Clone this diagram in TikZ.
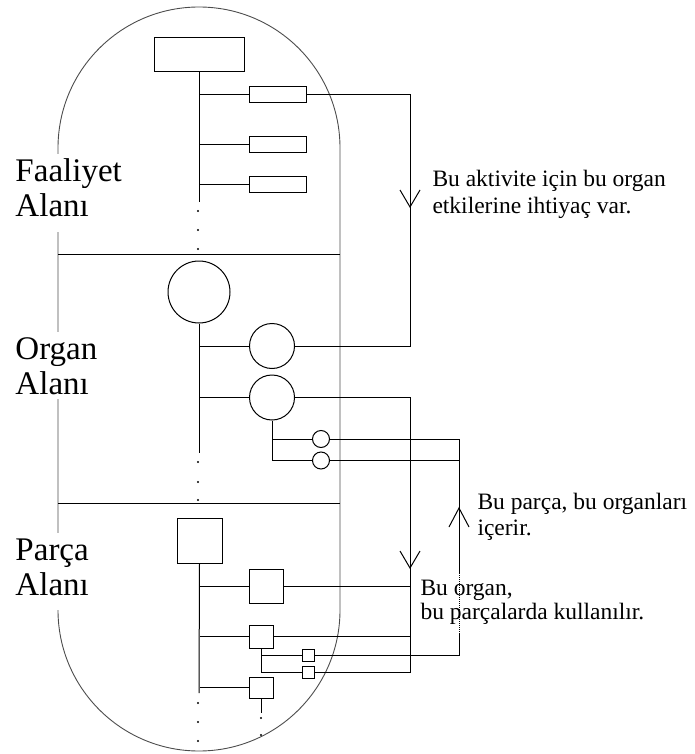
\documentclass[tikz,border=0pt]{standalone}
\usepackage{fontspec}
\setmainfont{Liberation Serif}
\usetikzlibrary{calc}
\tikzset{
  rbox/.style n args={2}{draw, rectangle, inner sep=0pt, minimum width=#1, minimum height=#2},
  circ/.style={draw, circle, inner sep=0pt, minimum size=#1},
  stad/.style={line width=0.9pt, black!70},
  lbl/.style={fill=white, inner xsep=2pt, inner ysep=5pt, font=\fontsize{33}{35}\selectfont, anchor=base west},
  note/.style={inner sep=0pt, font=\fontsize{23.5}{27}\selectfont, anchor=base west},
  dotm/.style={fill, circle, inner sep=0pt, minimum size=2.2pt},
}
\begin{document}
\begin{tikzpicture}[x=1pt, y=-1pt, line width=1pt]
\useasboundingbox (0,0) rectangle (694,754);

% stadium outline
\draw[stad] (58,610) -- (58,148) arc[start angle=180, end angle=0, radius=141pt]
  -- (340,610) arc[start angle=0, end angle=-180, radius=141pt] -- cycle;
% dividers
\coordinate (dv1l) at (58,254.5); \coordinate (dv1r) at (340,254.5);
\coordinate (dv2l) at (58,503);   \coordinate (dv2r) at (340,503);
\draw (dv1l) -- (dv1r);
\draw (dv2l) -- (dv2r);

% activity domain
\node[rbox={90pt}{34pt}] (T0) at (199,55) {};
\node[rbox={57pt}{16pt}] (A1) at (277.5,94.5) {};
\node[rbox={57pt}{16pt}] (A2) at (277.5,145) {};
\node[rbox={57pt}{16pt}] (A3) at (277.5,184.5) {};
\coordinate (t1e) at (199,202);
\draw (T0.south) -- (t1e);
\draw (A1.west) -- (A1.west -| T0.south);
\draw (A2.west) -- (A2.west -| T0.south);
\draw (A3.west) -- (A3.west -| T0.south);
\node[dotm] (d1) at (198,211) {};
\node[dotm] (d2) at (198,230) {};
\node[dotm] (d3) at (198,249) {};

% organ domain
\node[circ=62pt] (O0) at (199,292) {};
\node[circ=45pt] (O1) at (272,346) {};
\node[circ=45pt] (O2) at (272,397.5) {};
\node[circ=17pt] (S1) at (321,439) {};
\node[circ=17pt] (S2) at (321,460.5) {};
\coordinate (t2e) at (199,453);
\draw (O0.south) -- (t2e);
\draw (O1.west) -- (O1.west -| O0.south);
\draw (O2.west) -- (O2.west -| O0.south);
\draw (O2.south) |- (S2.west);
\draw (S1.west) -- (S1.west -| O2.south);
\node[dotm] (d4) at (198,462) {};
\node[dotm] (d5) at (198,482) {};
\node[dotm] (d6) at (198,500) {};

% part domain
\node[rbox={45pt}{45pt}] (P0) at (199.5,540.5) {};
\node[rbox={34pt}{34pt}] (P1) at (266,586.5) {};
\node[rbox={24pt}{23pt}] (P2) at (261,636.5) {};
\node[rbox={24pt}{21pt}] (P3) at (261,687.5) {};
\node[rbox={12pt}{12pt}] (Q1) at (308,655) {};
\node[rbox={12pt}{12pt}] (Q2) at (308,672) {};
\coordinate (t3e) at (199,693);
\draw (P0.south) -- (t3e);
\draw (P1.west) -- (P1.west -| P0.south);
\draw (P2.west) -- (P2.west -| P0.south);
\draw (P3.west) -- (P3.west -| P0.south);
\draw (P2.south) |- (Q2.west);
\draw (Q1.west) -- (Q1.west -| P2.south);
\coordinate (p3e) at (261,713);
\draw (P3.south) -- (p3e);
\node[dotm] (d7) at (198,703) {};
\node[dotm] (d8) at (198,722) {};
\node[dotm] (d9) at (198,741) {};
\node[dotm] (d10) at (261,718) {};
\node[dotm] (d11) at (261,735) {};

% connector 1: activity -> organ
\coordinate (c1) at (410,94.5);
\draw (A1.east) -- (c1) |- (O1.east);
\coordinate (ar1) at (410,207);
\draw ($(ar1)+(-10,-17)$) -- (ar1) -- ($(ar1)+(10,-17)$);

% connector 2: organ -> parts
\coordinate (c2) at (410,397.5);
\draw (O2.east) -- (c2) |- (Q2.east);
\draw (P1.east) -- (P1.east -| c2);
\draw (P2.east) -- (P2.east -| c2);
\coordinate (ar2) at (410,568);
\draw ($(ar2)+(-10,-17)$) -- (ar2) -- ($(ar2)+(10,-17)$);

% connector 3: part -> organs
\coordinate (c3) at (459,439);
\coordinate (c3a) at (459,573);
\coordinate (c3b) at (459,633);
\draw (S1.east) -- (c3) -- (c3a);
\draw (S2.east) -- (S2.east -| c3);
\draw[densely dotted] (c3a) -- (c3b);
\draw (c3b) |- (Q1.east);
\coordinate (ar3) at (459,508);
\draw ($(ar3)+(-10,19)$) -- (ar3) -- ($(ar3)+(10,19)$);

% domain labels
\node[lbl] (fa1) at (13,182) {Faaliyet};
\node[lbl, text depth=11pt] (fa2) at (13,216) {Alanı};
\node[lbl] (or1) at (13,359) {Organ};
\node[lbl] (or2) at (13,394) {Alanı};
\node[lbl] (pa1) at (13,560) {Parça};
\node[lbl, text depth=10pt] (pa2) at (13,595) {Alanı};

% notes
\node[note] (n1a) at (432,186) {Bu aktivite için bu organ};
\node[note] (n1b) at (432,213) {etkilerine ihtiyaç var.};
\node[note] (n2a) at (477,509) {Bu parça, bu organları};
\node[note] (n2b) at (477,535) {içerir.};
\node[note] (n3a) at (420,595) {Bu organ,};
\node[note] (n3b) at (420,619) {bu parçalarda kullanılır.};
\end{tikzpicture}
\end{document}
